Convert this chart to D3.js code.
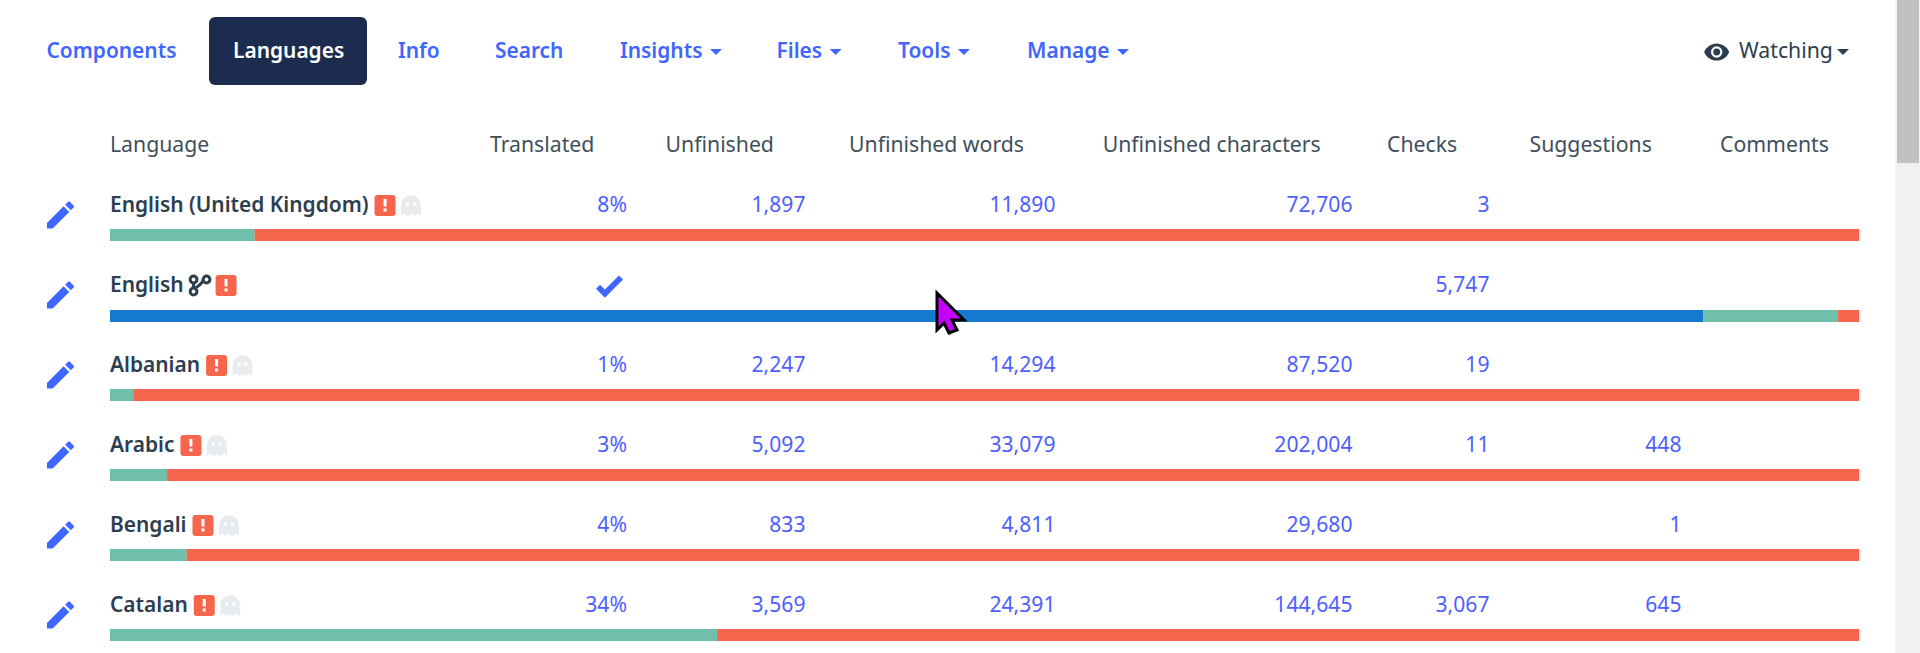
<!DOCTYPE html>
<html>
<head>
<meta charset="utf-8">
<script src="https://cdn.jsdelivr.net/npm/d3@7/dist/d3.min.js"></script>
<style>
  html, body { margin: 0; padding: 0; background: #fff; overflow: hidden; }
  svg { display: block; }
  text { font-family: "Noto Sans", sans-serif; font-size: 22px; }
</style>
</head>
<body>
<svg id="chart" width="1920" height="653"></svg>
<script>
// chart values
const tabs = ["Components", "Languages", "Info", "Search", "Insights", "Files", "Tools", "Manage"];
const tabHasCaret = [false, false, false, false, true, true, true, true];
const columns = ["Translated", "Unfinished", "Unfinished words", "Unfinished characters", "Checks", "Suggestions", "Comments"];
const languages = ["English (United Kingdom)", "English", "Albanian", "Arabic", "Bengali", "Catalan"];
const translatedLabels = ["8%", null, "1%", "3%", "4%", "34%"];
const unfinished = [1897, null, 2247, 5092, 833, 3569];
const unfinishedWords = [11890, null, 14294, 33079, 4811, 24391];
const unfinishedChars = [72706, null, 87520, 202004, 29680, 144645];
const checks = [3, 5747, 19, 11, null, 3067];
const suggestions = [null, null, null, 448, 1, 645];
const comments = [null, null, null, null, null, null];
const readonlyPct = [0, 91, 0, 0, 0, 0];
const translatedPct = [8.26, 7.69, 1.37, 3.26, 4.38, 34.67];
const unfinishedPct = [91.63, 1.2, 98.52, 96.63, 95.51, 65.22];

const svg = d3.select("#chart");
const fmt = d3.format(",");
const BLUE = "#3f66ff", DARK = "#2c3e50", RED = "#f6664c";

// the original font is narrower than Noto Sans, so squeeze each label a bit
const SQUEEZE = 0.965, SQUEEZE_BOLD = 0.95;
function squeeze(sel, factor = SQUEEZE) {
  sel.each(function () {
    this.setAttribute("textLength", this.getComputedTextLength() * factor);
    this.setAttribute("lengthAdjust", "spacingAndGlyphs");
  });
  return sel;
}

const icons = {
  pencil: "M20.71,7.04C21.1,6.65 21.1,6 20.71,5.63L18.37,3.29C18,2.9 17.35,2.9 16.96,3.29L15.12,5.12L18.87,8.87M3,17.25V21H6.75L17.81,9.93L14.06,6.18L3,17.25Z",
  check: "M9,20.42L2.79,14.21L5.62,11.38L9,14.77L18.88,4.88L21.71,7.71L9,20.42Z",
  eye: "M12,9A3,3 0 0,0 9,12A3,3 0 0,0 12,15A3,3 0 0,0 15,12A3,3 0 0,0 12,9M12,17A5,5 0 0,1 7,12A5,5 0 0,1 12,7A5,5 0 0,1 17,12A5,5 0 0,1 12,17M12,4.5C7,4.5 2.73,7.61 1,12C2.73,16.39 7,19.5 12,19.5C17,19.5 21.27,16.39 23,12C21.27,7.61 17,4.5 12,4.5Z",
  ghost: "M0,10A10,10 0 0 1 20,10V21L16.7,18.5L13.3,21L10,18.5L6.7,21L3.3,18.5L0,21Z",
  cursor: "M0,0L27,27H15L20,37L12,40L7,30L0,37Z"
};

// top navigation
const tabX = d3.scaleOrdinal().domain(tabs).range([46.5, 233, 398, 495, 620, 776.5, 898, 1027]);

svg.append("rect")
  .attr("x", 209).attr("y", 17)
  .attr("width", 158).attr("height", 68)
  .attr("rx", 6)
  .attr("fill", "#1b2c4f");

function caret(x, y, color) {
  svg.append("path")
    .attr("d", `M${x},${y}h12l-6,6z`)
    .attr("fill", color);
}

tabs.forEach((t, i) => {
  const label = svg.append("text")
    .attr("x", tabX(t)).attr("y", 58)
    .attr("font-weight", 600)
    .attr("fill", t == "Languages" ? "#fff" : BLUE)
    .text(t);
  const w = label.node().getComputedTextLength() * SQUEEZE_BOLD;
  squeeze(label, SQUEEZE_BOLD);
  if (tabHasCaret[i]) {
    caret(tabX(t) + w + 7.5, 49, BLUE);
  }
});

svg.append("path")
  .attr("d", icons.eye)
  .attr("transform", "translate(1703,38.3) scale(1.14)")
  .attr("fill", DARK);
squeeze(svg.append("text").attr("x", 1739).attr("y", 58).attr("fill", DARK).text("Watching"));
caret(1837, 49, DARK);

// table header
const colX = d3.scaleOrdinal().domain(columns).range([490, 665.6, 849, 1102.7, 1387, 1529.5, 1720]);

squeeze(svg.append("text").attr("x", 110).attr("y", 151.5).attr("fill", "#3f4f5c").text("Language"));
squeeze(svg.selectAll(".head")
  .data(columns)
  .enter()
  .append("text")
  .attr("class", "head")
  .attr("x", d => colX(d))
  .attr("y", 151.5)
  .attr("fill", "#3f4f5c")
  .text(d => d));

// rows
const rowY = d3.scalePoint().domain(languages).range([212, 612]);
const x = d3.scaleLinear().domain([0, 100]).range([110, 1861]);

const rows = svg.selectAll(".row")
  .data(languages)
  .enter()
  .append("g")
  .attr("class", "row")
  .attr("transform", d => `translate(0,${rowY(d)})`);

rows.append("path")
  .attr("d", icons.pencil)
  .attr("transform", "translate(42.5,-15) scale(1.5)")
  .attr("fill", BLUE);

const names = rows.append("text")
  .attr("x", 110)
  .attr("font-weight", 600)
  .attr("fill", DARK)
  .text(d => d);
const nameWidths = names.nodes().map(n => n.getComputedTextLength() * SQUEEZE_BOLD);
squeeze(names, SQUEEZE_BOLD);

// badges sit right after the name, English has the link icon in between
rows.each(function (d, i) {
  const g = d3.select(this);
  let end = 110 + nameWidths[i] + 6;
  if (d == "English") {
    g.append("g")
      .attr("transform", `translate(${end},0)`)
      .call(link => {
        link.selectAll("circle")
          .data([[4, -12.5], [17, -12.5], [4, -0.5]])
          .enter()
          .append("circle")
          .attr("cx", c => c[0]).attr("cy", c => c[1])
          .attr("r", 3.4)
          .attr("fill", "none")
          .attr("stroke", DARK)
          .attr("stroke-width", 3);
        link.append("path")
          .attr("d", "M4,-9V-3M13.5,-12.5C13,-7 7,-6 5,-3")
          .attr("fill", "none")
          .attr("stroke", DARK)
          .attr("stroke-width", 3);
      });
    end += 26;
  }
  g.append("rect")
    .attr("x", end).attr("y", -17)
    .attr("width", 21).attr("height", 21)
    .attr("rx", 3)
    .attr("fill", RED);
  g.append("rect")
    .attr("x", end + 9).attr("y", -13)
    .attr("width", 3).attr("height", 7.5)
    .attr("fill", "#fff");
  g.append("rect")
    .attr("x", end + 9).attr("y", -3.5)
    .attr("width", 3).attr("height", 3)
    .attr("fill", "#fff");
  if (d != "English") {
    g.append("path")
      .attr("d", icons.ghost)
      .attr("transform", `translate(${end + 26.5},-17)`)
      .attr("fill", "#e9ecef");
    g.append("circle").attr("cx", end + 33).attr("cy", -8).attr("r", 1.7).attr("fill", "#fff");
    g.append("circle").attr("cx", end + 40).attr("cy", -8).attr("r", 1.7).attr("fill", "#fff");
  }
});

// number columns, right aligned
const valueCols = [
  { right: 627, values: translatedLabels },
  { right: 805.5, values: unfinished },
  { right: 1055.5, values: unfinishedWords },
  { right: 1352.5, values: unfinishedChars },
  { right: 1489.5, values: checks },
  { right: 1681.5, values: suggestions },
  { right: 1829, values: comments }
];

valueCols.forEach(col => {
  squeeze(rows.filter((d, i) => col.values[i] != null)
    .append("text")
    .attr("x", col.right)
    .attr("text-anchor", "end")
    .attr("fill", "#4d60ff")
    .text(d => {
      const v = col.values[languages.indexOf(d)];
      return typeof v == "number" ? fmt(v) : v;
    }), 0.96);
});

svg.append("path")
  .attr("d", icons.check)
  .attr("transform", "translate(592,268.5) scale(1.43)")
  .attr("fill", BLUE);

// stacked progress bars, the English row sits one pixel lower in the page
const barY = d => rowY(d) + 17 + (d == "English" ? 1 : 0);
const barH = 12;

svg.selectAll(".track")
  .data(languages)
  .enter()
  .append("rect")
  .attr("class", "track")
  .attr("x", x(0))
  .attr("y", barY)
  .attr("width", x(100) - x(0))
  .attr("height", barH)
  .attr("fill", "#e9ecef");

const stack = d3.stack()
  .keys(["readonly", "translated", "unfinished"])
  (languages.map((d, i) => ({
    language: d,
    readonly: readonlyPct[i],
    translated: translatedPct[i],
    unfinished: unfinishedPct[i]
  })));
const barColor = d3.scaleOrdinal()
  .domain(["readonly", "translated", "unfinished"])
  .range(["#1479cf", "#70bfaa", RED]);

svg.selectAll(".layer")
  .data(stack)
  .enter()
  .append("g")
  .attr("class", "layer")
  .attr("fill", d => barColor(d.key))
  .selectAll("rect")
  .data(d => d)
  .enter()
  .append("rect")
  .attr("x", d => x(d[0]))
  .attr("y", d => barY(d.data.language))
  .attr("width", d => x(d[1]) - x(d[0]))
  .attr("height", barH);

// scrollbar
svg.append("rect").attr("x", 1895).attr("y", 0).attr("width", 25).attr("height", 653).attr("fill", "#f1f1f1");
svg.append("rect").attr("x", 1897).attr("y", 0).attr("width", 22).attr("height", 163).attr("fill", "#c1c1c1");

// mouse pointer from the screenshot
svg.append("path")
  .attr("d", icons.cursor)
  .attr("transform", "translate(937,293)")
  .attr("fill", "#c400ff")
  .attr("stroke", "#000")
  .attr("stroke-width", 3);
</script>
</body>
</html>
